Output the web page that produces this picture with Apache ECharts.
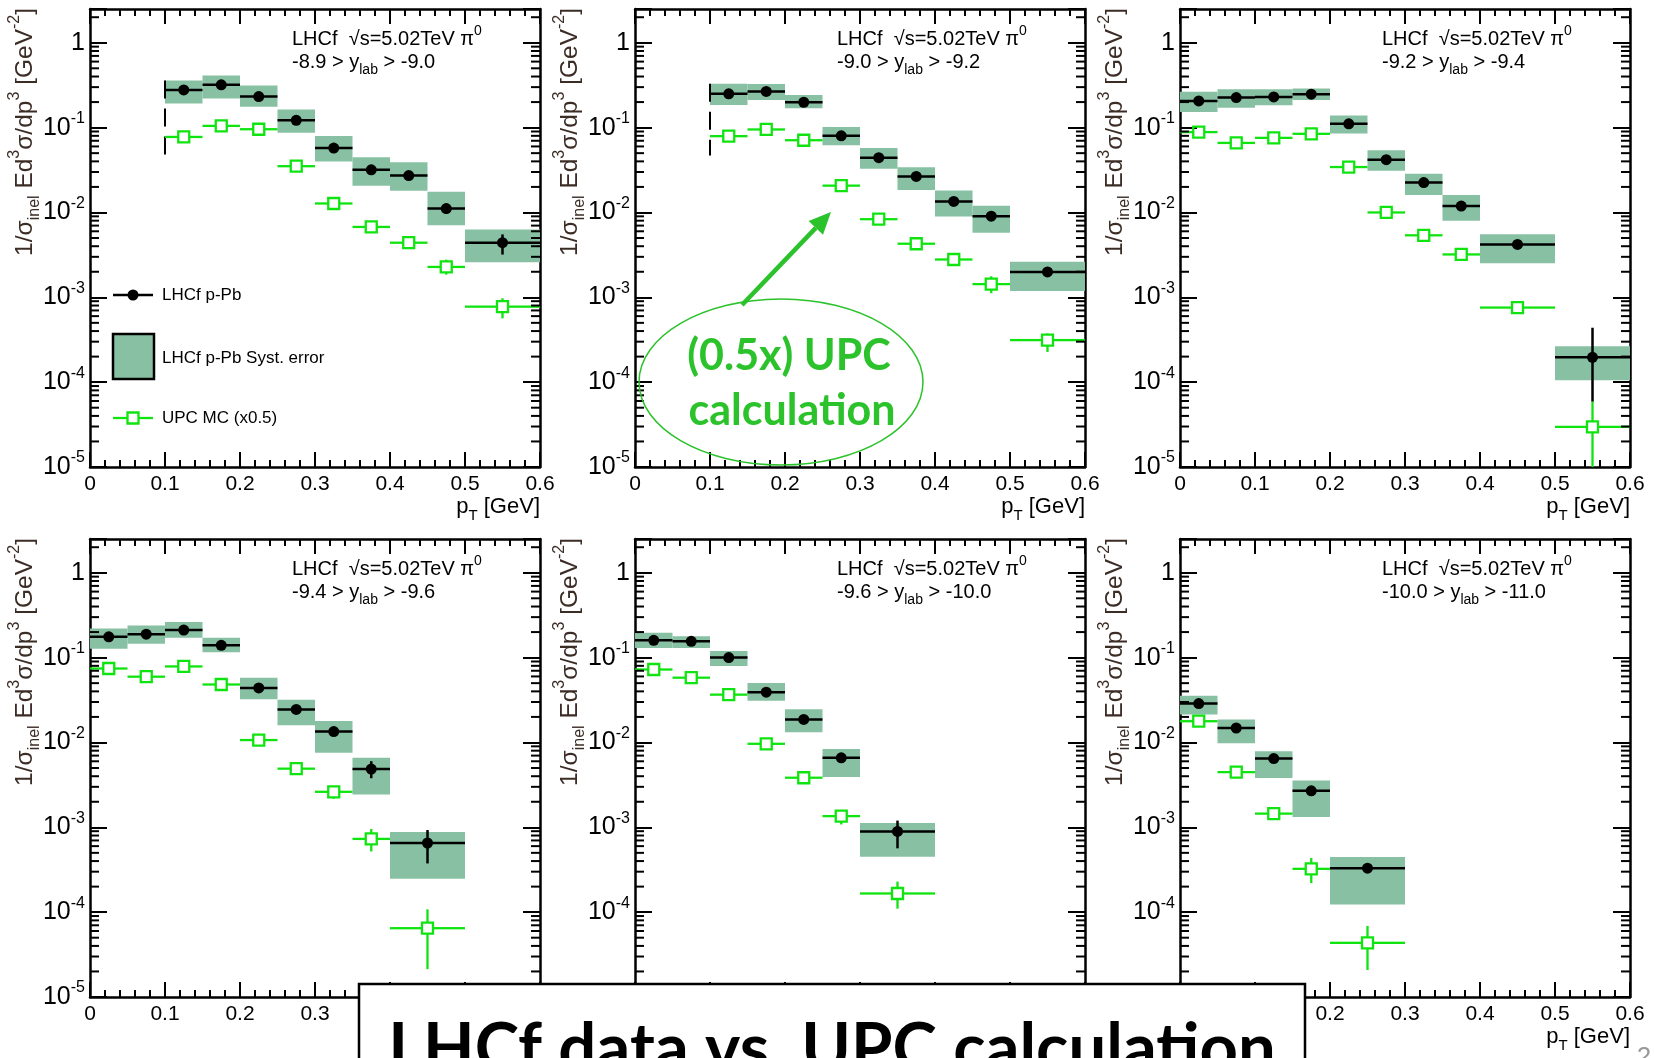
<!DOCTYPE html>
<html><head><meta charset="utf-8">
<script src="https://cdn.jsdelivr.net/npm/echarts/dist/echarts.min.js"></script>
<style>html,body{margin:0;padding:0;background:#fff;overflow:hidden}#c{width:1654px;height:1058px}</style>
</head><body><div id="c"></div>
<script>
// ---------- data ----------
const xTickLabels = ['0', '0.1', '0.2', '0.3', '0.4', '0.5', '0.6'];
const yMinorMultipliers = [2, 3, 4, 5, 6, 7, 8, 9];
const yMinorDecades = [1e-5, 1e-4, 1e-3, 1e-2, 1e-1];
const yMinorTop = [2];

const rapidity = [
  '-8.9 > y{sub|lab} > -9.0', '-9.0 > y{sub|lab} > -9.2', '-9.2 > y{sub|lab} > -9.4',
  '-9.4 > y{sub|lab} > -9.6', '-9.6 > y{sub|lab} > -10.0', '-10.0 > y{sub|lab} > -11.0'
];

// LHCf rows: [value, systLow, systHigh, statLow, statHigh]; UPC rows: [value, low, high]
const bins1 = [0.1, 0.15, 0.2, 0.25, 0.3, 0.35, 0.4, 0.45, 0.5, 0.6];
const lhcf1 = [[0.278,0.193,0.359],[0.319,0.221,0.411],[0.232,0.176,0.313],[0.122,0.087,0.164],[0.0574,0.0399,0.0797],[0.0318,0.0207,0.0448],[0.0272,0.018,0.0391],[0.0111,0.00705,0.0175,0.0096,0.0127],[0.0044,0.00259,0.00631,0.00319,0.00551]];
const upc1 = [[0.0776],[0.1048],[0.0957],[0.0351],[0.01276],[0.00675],[0.0044,0.0039,0.0049],[0.00228,0.00185,0.00278],[0.000776,0.000565,0.000975]];
const dash1 = [[0.1, 0.359, 0.048]];

const bins2 = [0.1, 0.15, 0.2, 0.25, 0.3, 0.35, 0.4, 0.45, 0.5, 0.6];
const lhcf2 = [[0.25,0.185,0.329],[0.267,0.212,0.326],[0.199,0.169,0.243],[0.080,0.0619,0.102],[0.0442,0.0327,0.0576],[0.0266,0.0184,0.0342],[0.0135,0.00896,0.0181],[0.00904,0.00578,0.012],[0.00199,0.00119,0.00262]];
const upc2 = [[0.0793],[0.0951],[0.071],[0.0207],[0.00833],[0.00428],[0.00279],[0.00143,0.00112,0.00177],[0.000313,0.000227,0.000375]];
const dash2 = [[0.1, 0.329, 0.047]];

const bins3 = [0, 0.05, 0.1, 0.15, 0.2, 0.25, 0.3, 0.35, 0.4, 0.5, 0.6];
const lhcf3 = [[0.206,0.153,0.264],[0.226,0.172,0.284],[0.230,0.183,0.284],[0.248,0.212,0.289],[0.111,0.0853,0.139],[0.0419,0.031,0.054],[0.0225,0.0161,0.0285],[0.0119,0.00796,0.0161],[0.0042,0.00252,0.00553],[0.000196,0.000105,0.000265,0.000059,0.000438]];
const upc3 = [[0.0885],[0.066],[0.0757],[0.0845],[0.0343],[0.0100],[0.00538],[0.0032],[0.000757,0.00069,0.00082],[0.0000297,0.000006,0.000059]];

const bins4 = [0, 0.05, 0.1, 0.15, 0.2, 0.25, 0.3, 0.35, 0.4, 0.5];
const lhcf4 = [[0.176,0.127,0.221],[0.189,0.146,0.239],[0.211,0.171,0.262],[0.1395,0.116,0.171],[0.0439,0.0324,0.058],[0.0245,0.0159,0.0318],[0.01345,0.00758,0.0179],[0.00486,0.00243,0.00659,0.00379,0.00601],[0.000653,0.000248,0.000879,0.000375,0.000929]];
const upc4 = [[0.0744],[0.0596],[0.0787],[0.0482],[0.01067],[0.00491],[0.00262,0.00217,0.0030],[0.00073,0.000519,0.000955],[0.0000647,0.0000213,0.000108]];

const bins5 = [0, 0.05, 0.1, 0.15, 0.2, 0.25, 0.3, 0.4];
const lhcf5 = [[0.16,0.1294,0.196],[0.1556,0.1294,0.179],[0.1,0.0794,0.120],[0.0391,0.031,0.0501],[0.0187,0.0132,0.0247],[0.0066,0.00391,0.0084],[0.000895,0.000449,0.001127,0.000565,0.0012]];
const upc5 = [[0.0724],[0.058],[0.0366],[0.00964],[0.00384],[0.001355,0.00108,0.00156],[0.000166,0.00011,0.000229]];

const bins6 = [0, 0.05, 0.1, 0.15, 0.2, 0.3];
const lhcf6 = [[0.0287,0.0214,0.0355],[0.0148,0.00977,0.0186],[0.00646,0.00382,0.0079],[0.00269,0.001324,0.00355],[0.00033,0.000123,0.000447]];
const upc6 = [[0.0178],[0.00447],[0.00145],[0.000324,0.00022,0.000435],[0.0000435,0.0000208,0.0000688]];

// ---------- layout & style ----------
const FONT = "'Liberation Sans', Arial, sans-serif";
const COLS = [90, 635, 1180], ROWS = [9, 539], W = 450, H = 458;
const BOX_FILL = '#87c0a2', GREEN = '#10e410', ANN = '#2cc22c';
const Y_MIN = 1e-5, Y_MAX = 2.5;
const COVERED_BOTTOM_LABEL = [false, false, false, false, true, true]; // hidden under the slide title box

const panels = [
  {bins: bins1, lhcf: lhcf1, upc: upc1, dash: dash1},
  {bins: bins2, lhcf: lhcf2, upc: upc2, dash: dash2},
  {bins: bins3, lhcf: lhcf3, upc: upc3, dash: []},
  {bins: bins4, lhcf: lhcf4, upc: upc4, dash: []},
  {bins: bins5, lhcf: lhcf5, upc: upc5, dash: []},
  {bins: bins6, lhcf: lhcf6, upc: upc6, dash: []}
];

const yMinor = [];
yMinorDecades.forEach(d => yMinorMultipliers.forEach(m => yMinor.push(Number((m * d).toPrecision(6)))));
yMinorTop.forEach(v => yMinor.push(v));

function makeYLabel(hideBottom) {
  return function (v) {
    const l = Math.log10(v), e = Math.round(l);
    if (Math.abs(l - e) > 1e-6) return '';
    if (hideBottom && e === -5) return '';
    return e === 0 ? '1' : '10{s|' + e + '}';
  };
}
function xLabel(v) {
  const s = String(+v.toFixed(1));
  return xTickLabels.indexOf(s) >= 0 ? s : '';
}

function clampY(cs, y) { return Math.min(Math.max(y, cs.y), cs.y + cs.height); }

function renderBox(params, api) {
  const a = api.coord([api.value(0), api.value(3)]);
  const b = api.coord([api.value(1), api.value(2)]);
  return {type: 'rect', shape: {x: a[0], y: a[1], width: b[0] - a[0], height: b[1] - a[1]}, style: {fill: BOX_FILL}};
}
function renderPoint(params, api) {
  const cs = params.coordSys;
  const xc = api.value(0), v = api.value(1);
  const c = api.coord([xc, v]);
  const l = api.coord([api.value(2), v])[0], r = api.coord([api.value(3), v])[0];
  const lo = clampY(cs, api.coord([xc, api.value(4)])[1]);
  const hi = clampY(cs, api.coord([xc, api.value(5)])[1]);
  const st = {stroke: '#000', lineWidth: 2.5};
  const ch = [{type: 'line', shape: {x1: l, y1: c[1], x2: r, y2: c[1]}, style: st}];
  if (lo - hi > 1) ch.push({type: 'line', shape: {x1: c[0], y1: hi, x2: c[0], y2: lo}, style: st});
  ch.push({type: 'circle', shape: {cx: c[0], cy: c[1], r: 5.5}, style: {fill: '#000'}});
  return {type: 'group', children: ch};
}
function renderUpc(params, api) {
  const cs = params.coordSys;
  const xc = api.value(0), v = api.value(1);
  const c = api.coord([xc, v]);
  const l = api.coord([api.value(2), v])[0], r = api.coord([api.value(3), v])[0];
  const lo = clampY(cs, api.coord([xc, api.value(4)])[1]);
  const hi = clampY(cs, api.coord([xc, api.value(5)])[1]);
  const s = 5.5;
  const st = {stroke: GREEN, lineWidth: 2.3};
  const ch = [
    {type: 'line', shape: {x1: l, y1: c[1], x2: c[0] - s, y2: c[1]}, style: st},
    {type: 'line', shape: {x1: c[0] + s, y1: c[1], x2: r, y2: c[1]}, style: st}
  ];
  if (c[1] - s - hi > 0.5) ch.push({type: 'line', shape: {x1: c[0], y1: hi, x2: c[0], y2: c[1] - s}, style: st});
  if (lo - c[1] - s > 0.5) ch.push({type: 'line', shape: {x1: c[0], y1: c[1] + s, x2: c[0], y2: lo}, style: st});
  ch.push({type: 'rect', shape: {x: c[0] - s, y: c[1] - s, width: 2 * s, height: 2 * s}, style: {fill: 'none', stroke: GREEN, lineWidth: 2.3}});
  return {type: 'group', children: ch};
}
function renderDash(params, api) {
  const a = api.coord([api.value(0), api.value(1)]);
  const b = api.coord([api.value(0), api.value(2)]);
  return {type: 'line', shape: {x1: a[0], y1: a[1], x2: b[0], y2: b[1]}, style: {stroke: '#000', lineWidth: 2, lineDash: [18, 10]}};
}
function renderMinor(params, api) {
  const cs = params.coordSys;
  const y = api.coord([0, api.value(1)])[1];
  const st = {stroke: '#000', lineWidth: 2};
  return {type: 'group', children: [
    {type: 'line', shape: {x1: cs.x, y1: y, x2: cs.x + 9, y2: y}, style: st},
    {type: 'line', shape: {x1: cs.x + cs.width - 9, y1: y, x2: cs.x + cs.width, y2: y}, style: st}
  ]};
}

const grid = [], xAxis = [], yAxis = [], series = [];
const axisLine = {onZero: false, lineStyle: {color: '#000', width: 2.5}};
panels.forEach((p, i) => {
  const L = COLS[i % 3], T = ROWS[Math.floor(i / 3)];
  grid.push({left: L, top: T, width: W, height: H, show: false});
  const xBase = {gridIndex: i, type: 'value', min: 0, max: 0.6, interval: 0.1,
    axisLine, splitLine: {show: false},
    axisTick: {inside: true, length: 15, lineStyle: {color: '#000', width: 2}},
    minorTick: {show: true, splitNumber: 5, length: 7, lineStyle: {color: '#000', width: 2}}};
  xAxis.push(Object.assign({}, xBase, {position: 'bottom',
    axisLabel: {margin: 7, fontSize: 21, fontFamily: FONT, color: '#000', formatter: xLabel}}));
  xAxis.push(Object.assign({}, xBase, {position: 'top', axisLabel: {show: false}}));
  const yBase = {gridIndex: i, type: 'log', logBase: 10, min: Y_MIN, max: Y_MAX,
    axisLine, splitLine: {show: false}, minorTick: {show: false},
    axisTick: {inside: true, length: 17, lineStyle: {color: '#000', width: 2}}};
  yAxis.push(Object.assign({}, yBase, {position: 'left',
    axisLabel: {margin: 5, fontSize: 25, fontFamily: FONT, color: '#000', lineHeight: 34,
      formatter: makeYLabel(COVERED_BOTTOM_LABEL[i]),
      rich: {s: {fontSize: 16, fontFamily: FONT, color: '#000', verticalAlign: 'top', lineHeight: 16}}}}));
  yAxis.push(Object.assign({}, yBase, {position: 'right', axisLabel: {show: false}}));
  const ax = {xAxisIndex: 2 * i, yAxisIndex: 2 * i};
  const b = p.bins;
  series.push(Object.assign({type: 'custom', z: 2, silent: true, renderItem: renderBox,
    encode: {x: [0, 1], y: [2, 3]},
    data: p.lhcf.map((r, j) => [b[j], b[j + 1], r[1], r[2]])}, ax));
  if (p.dash.length) series.push(Object.assign({type: 'custom', z: 3, silent: true, renderItem: renderDash,
    encode: {x: 0, y: [1, 2]}, data: p.dash}, ax));
  series.push(Object.assign({type: 'custom', z: 4, silent: true, renderItem: renderUpc,
    encode: {x: 0, y: 1},
    data: p.upc.map((r, j) => [(b[j] + b[j + 1]) / 2, r[0], b[j], b[j + 1], r[1] ?? r[0], r[2] ?? r[0]])}, ax));
  series.push(Object.assign({type: 'custom', z: 5, silent: true, renderItem: renderPoint,
    encode: {x: 0, y: 1},
    data: p.lhcf.map((r, j) => [(b[j] + b[j + 1]) / 2, r[0], b[j], b[j + 1], r[3] ?? r[0], r[4] ?? r[0]])}, ax));
  series.push(Object.assign({type: 'custom', z: 6, silent: true, renderItem: renderMinor,
    encode: {x: 0, y: 1}, data: yMinor.map(v => [0, v])}, ax));
});

// ---------- text & annotations ----------
function mkRich(fs) {
  return {
    sub: {fontSize: fs, fontFamily: FONT, verticalAlign: 'bottom', lineHeight: fs},
    sup: {fontSize: fs, fontFamily: FONT, verticalAlign: 'top', lineHeight: fs}
  };
}
function txt(x, y, text, o) {
  const st = Object.assign({text, rich: mkRich(14), fontSize: 20, fontFamily: FONT, fill: '#000',
    align: 'left', verticalAlign: 'middle', lineHeight: 30}, o || {});
  st.textAlign = st.align; st.textVerticalAlign = st.verticalAlign;
  return {type: 'text', x, y, z: 50, style: st};
}
const graphic = [];
panels.forEach((p, i) => {
  const L = COLS[i % 3], T = ROWS[Math.floor(i / 3)];
  const yt = txt(L - 65, T - 1, '1/σ{sub|inel} Ed{sup|3}σ/dp{sup|3} [GeV{sup|-2}]',
    {fontSize: 24.5, rich: mkRich(16), lineHeight: 36, fill: '#3b2c25', align: 'right'});
  yt.rotation = Math.PI / 2;
  graphic.push(yt);
  graphic.push(txt(L + W, T + H + 40, 'p{sub|T} [GeV]', {fontSize: 22, rich: mkRich(15), lineHeight: 32, align: 'right'}));
  graphic.push(txt(L + 202, T + 30, 'LHCf  √s=5.02TeV π{sup|0}'));
  graphic.push(txt(L + 202, T + 53, rapidity[i]));
});
// legend (panel 1)
(function () {
  const L = COLS[0], T = ROWS[0];
  graphic.push({type: 'line', z: 50, shape: {x1: L + 23, y1: T + 286, x2: L + 63, y2: T + 286}, style: {stroke: '#000', lineWidth: 2.5}});
  graphic.push({type: 'circle', z: 51, shape: {cx: L + 43, cy: T + 286, r: 5.5}, style: {fill: '#000'}});
  graphic.push(txt(L + 72, T + 286, 'LHCf p-Pb', {fontSize: 17}));
  graphic.push({type: 'rect', z: 50, shape: {x: L + 23, y: T + 325, width: 41, height: 45}, style: {fill: BOX_FILL, stroke: '#000', lineWidth: 2.5}});
  graphic.push(txt(L + 72, T + 349, 'LHCf p-Pb Syst. error', {fontSize: 17}));
  graphic.push({type: 'line', z: 50, shape: {x1: L + 23, y1: T + 409, x2: L + 37.5, y2: T + 409}, style: {stroke: GREEN, lineWidth: 2.3}});
  graphic.push({type: 'line', z: 50, shape: {x1: L + 48.5, y1: T + 409, x2: L + 63, y2: T + 409}, style: {stroke: GREEN, lineWidth: 2.3}});
  graphic.push({type: 'rect', z: 50, shape: {x: L + 37.5, y: T + 403.5, width: 11, height: 11}, style: {fill: 'none', stroke: GREEN, lineWidth: 2.3}});
  graphic.push(txt(L + 72, T + 409, 'UPC MC (x0.5)', {fontSize: 17}));
})();
// annotation in panel 2
(function () {
  graphic.push({type: 'ellipse', z: 60, shape: {cx: 781, cy: 382, rx: 142, ry: 83}, style: {fill: 'none', stroke: ANN, lineWidth: 1.5}});
  const f = {fontSize: 43, fontFamily: 'Lato, "Open Sans", sans-serif', fontWeight: 'bold', fill: ANN, align: 'center'};
  graphic.push(txt(789, 356, '(0.5x) UPC', f));
  graphic.push(txt(792, 411, 'calculation', f));
  const x1 = 742, y1 = 305, x2 = 831, y2 = 212;
  const dx = x2 - x1, dy = y2 - y1, len = Math.hypot(dx, dy), ux = dx / len, uy = dy / len;
  const hl = 22, hw = 10, bx = x2 - ux * hl, by = y2 - uy * hl;
  graphic.push({type: 'line', z: 60, shape: {x1, y1, x2: bx, y2: by}, style: {stroke: ANN, lineWidth: 4.5}});
  graphic.push({type: 'polygon', z: 60, shape: {points: [[x2, y2], [bx - uy * hw, by + ux * hw], [bx + uy * hw, by - ux * hw]]}, style: {fill: ANN}});
})();
// slide title box and page number
graphic.push({type: 'rect', z: 100, shape: {x: 359, y: 984, width: 946, height: 100}, style: {fill: '#fff', stroke: '#000', lineWidth: 2.5}});
graphic.push(Object.assign(txt(832, 1049, 'LHCf data vs. UPC calculation',
  {fontSize: 67, fontFamily: 'Lato, "Open Sans", sans-serif', fontWeight: 'bold', fill: '#000', align: 'center', lineHeight: 80}), {z: 101}));
graphic.push(txt(1644, 1058, '2', {fontSize: 26, fill: '#999', align: 'center'}));

const chart = echarts.init(document.getElementById('c'), null, {renderer: 'canvas'});
chart.setOption({animation: false, backgroundColor: '#fff', grid, xAxis, yAxis, series, graphic});
</script></body></html>
